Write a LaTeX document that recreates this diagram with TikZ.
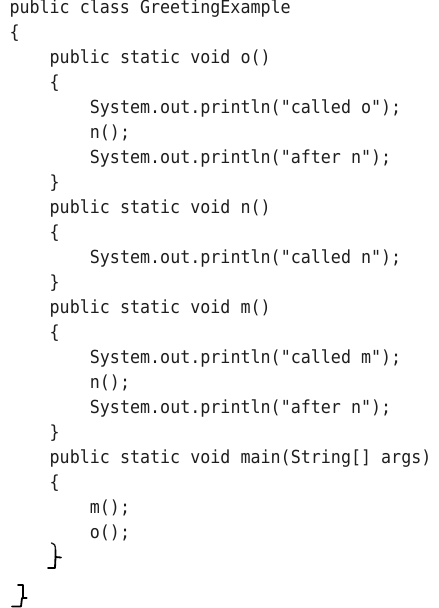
\documentclass[tikz,border=0pt]{standalone}
\usepackage{fontspec}
\newfontfamily\codefont[FakeStretch=0.927]{DejaVu Sans Mono}
\definecolor{codegray}{RGB}{30,30,30}
\tikzset{
  code/.style={anchor=base west, inner sep=0pt, outer sep=0pt, text=codegray,
    font=\codefont\fontsize{18}{18}\selectfont},
  handbrace/.style={draw=black, line width=1.8pt, line cap=round, line join=round}
}
\begin{document}
\begin{tikzpicture}[x=1pt,y=1pt]
\useasboundingbox[fill=white] (0,0) rectangle (439,-608);
\def\xa{9.5}
\def\xb{49.7}
\def\xc{89.9}
\node[code] (l0)  at (\xa,-13.5)  {public class GreetingExample};
\node[code] (l1)  at (\xa,-38.5)  {\{};
\node[code] (l2)  at (\xb,-63.5)  {public static void o()};
\node[code] (l3)  at (\xb,-88.5)  {\{};
\node[code] (l4)  at (\xc,-113.5) {System.out.println("called o");};
\node[code] (l5)  at (\xc,-138.5) {n();};
\node[code] (l6)  at (\xc,-163.5) {System.out.println("after n");};
\node[code] (l7)  at (\xb,-188.5) {\}};
\node[code] (l8)  at (\xb,-213.5) {public static void n()};
\node[code] (l9)  at (\xb,-238.5) {\{};
\node[code] (l10) at (\xc,-263.5) {System.out.println("called n");};
\node[code] (l11) at (\xb,-288.5) {\}};
\node[code] (l12) at (\xb,-313.5) {public static void m()};
\node[code] (l13) at (\xb,-338.5) {\{};
\node[code] (l14) at (\xc,-363.5) {System.out.println("called m");};
\node[code] (l15) at (\xc,-388.5) {n();};
\node[code] (l16) at (\xc,-413.5) {System.out.println("after n");};
\node[code] (l17) at (\xb,-438.5) {\}};
\node[code] (l18) at (\xb,-463.5) {public static void main(String[] args)};
\node[code] (l19) at (\xb,-488.5) {\{};
\node[code] (l20) at (\xc,-513.5) {m();};
\node[code] (l21) at (\xc,-538.5) {o();};
% closing brace of main (partly retouched)
\draw[codegray, line width=1.4pt, line cap=round] (51.5,-543) .. controls (54,-543) and (55.5,-545) .. (55.5,-550);
\draw[handbrace] (55.5,-550) -- (55.5,-557) -- (61,-557.5);
\draw[handbrace] (55.5,-557) -- (55,-568) -- (48,-568);
% closing brace of class (hand drawn)
\draw[handbrace] (18,-585) -- (22.7,-585) -- (22.7,-598) -- (26.7,-598);
\draw[handbrace] (22,-598) -- (21,-606.5) -- (12,-606.5);
\end{tikzpicture}
\end{document}
